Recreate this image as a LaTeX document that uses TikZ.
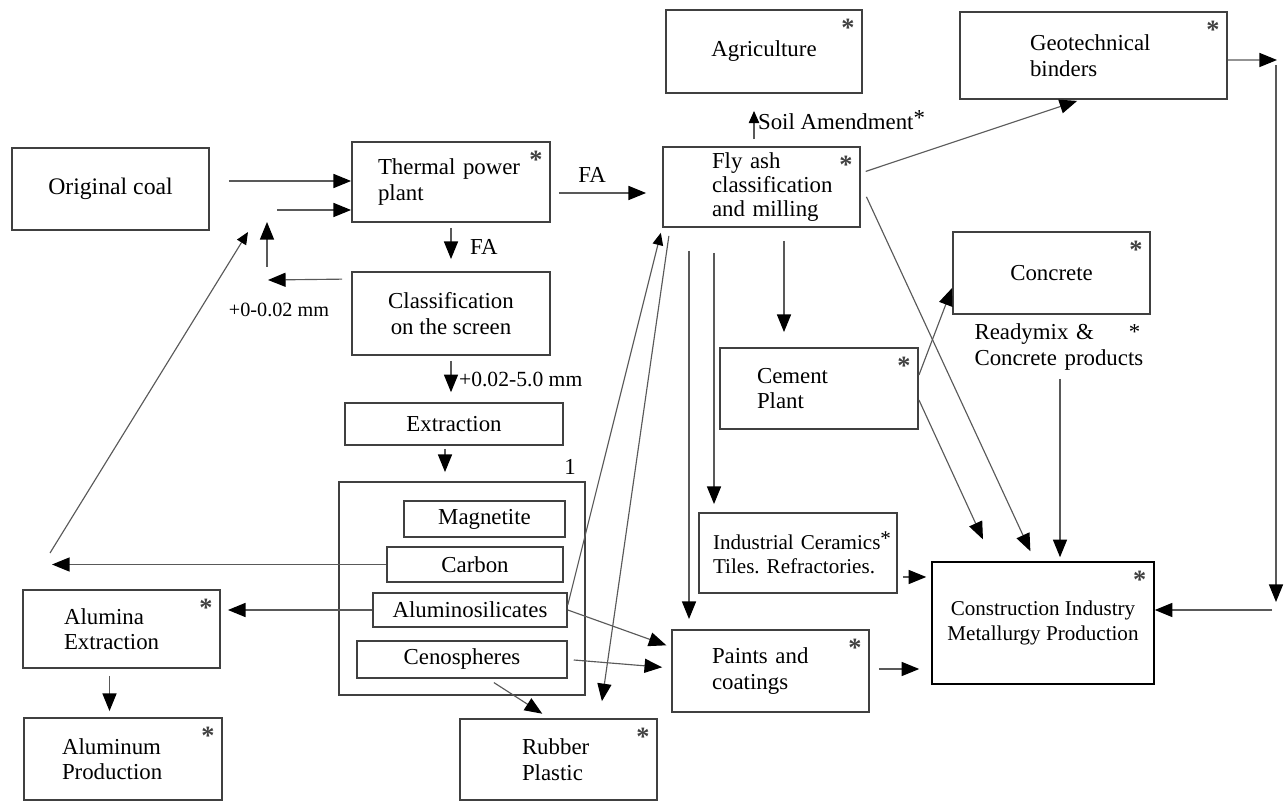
\documentclass[tikz,border=0pt]{standalone}
\usepackage{fontspec}
\setmainfont{Liberation Serif}
\usetikzlibrary{arrows.meta,calc}
\definecolor{grauRand}{rgb}{0.25,0.25,0.25}
\definecolor{grauLinie}{rgb}{0.35,0.35,0.35}
\tikzstyle{stage} = [draw=grauRand,line width=1.1pt,rectangle,inner sep=2pt,font=\fontsize{13}{14.5}\selectfont]
\tikzstyle{fraction} = [draw=grauRand,line width=0.9pt,rectangle,inner sep=2pt,font=\fontsize{13}{14.5}\selectfont]
\tikzstyle{stern} = [label={[anchor=center,xshift=-0.3cm,yshift=-0.38cm,inner sep=0pt,text=black!75,font=\fontsize{15}{15}\selectfont\bfseries]north east:*}]
\tikzstyle{note} = [inner sep=2pt,font=\fontsize{13}{14.5}\selectfont]
\tikzstyle{edge} = [-{Triangle[length=10pt,width=8pt,color=black]},draw=grauLinie,line width=0.65pt]
\tikzstyle{edge'} = [-{Triangle[length=7pt,width=6pt,color=black]},draw=grauLinie,line width=0.65pt]

\begin{document}
\begin{tikzpicture}[x=0.02cm,y=-0.02cm]
\useasboundingbox (0,0) rectangle (1288,803);

\node[stage,font=\fontsize{13.5}{15}\selectfont,minimum width=3.94cm,minimum height=1.64cm] (coal) at (110.5,189) {
	Original coal
};
\node[stage,stern,align=left,text width=2.92cm,minimum width=3.96cm,minimum height=1.6cm] (thermal) at (451,182) {
	Thermal power\\plant
};
\node[stage,align=center,minimum width=3.96cm,minimum height=1.66cm] (classif) at (451,313.5) {
	Classification\\on the screen
};
\node[fraction,minimum width=4.36cm,minimum height=0.84cm] (extract) at (454,424) {
	Extraction
};

\node[stage,minimum width=4.92cm,minimum height=4.26cm] (group) at (462,588.5) {};
\node[note] (grp1) at (570,467) {1};
\node[fraction,minimum width=3.22cm,minimum height=0.72cm] (magnet) at (484.5,519) {Magnetite};
\node[fraction,minimum width=3.52cm,minimum height=0.7cm] (carbon) at (475,564.5) {Carbon};
\node[fraction,minimum width=3.88cm,minimum height=0.68cm] (alusil) at (470,610) {Aluminosilicates};
\node[fraction,minimum width=4.2cm,minimum height=0.74cm] (ceno) at (462,659.5) {Cenospheres};

\node[stage,stern,align=left,text width=2.3cm,minimum width=3.94cm,minimum height=1.56cm] (alumina) at (121.5,629) {
	Alumina\\Extraction
};
\node[stage,stern,align=left,text width=2.44cm,minimum width=3.96cm,minimum height=1.64cm] (aluminum) at (123,759) {
	Aluminum\\Production
};
\node[stage,stern,align=left,text width=1.46cm,minimum width=3.94cm,minimum height=1.62cm] (rubber) at (558.5,759.5) {
	Rubber\\Plastic
};

\node[stage,stern,align=left,text width=1.98cm,minimum width=3.94cm,minimum height=1.6cm,font=\fontsize{13}{13.9}\selectfont] (flyash) at (761.5,187) {
	\mbox{Fly ash}\\\mbox{classification}\\\mbox{and milling}
};
\node[stage,stern,minimum width=3.92cm,minimum height=1.66cm] (agri) at (764,51.5) {
	Agriculture
};
\node[stage,stern,align=left,text width=2.54cm,minimum width=5.34cm,minimum height=1.74cm] (geo) at (1093.5,55.5) {
	Geotechnical\\binders
};
\node[stage,stern,minimum width=3.94cm,minimum height=1.64cm] (concrete) at (1051.5,273) {
	Concrete
};
\node[note,align=left,text width=3.42cm] (rmx) at (1060,347) {
	Readymix \&\hspace{0.7cm}*\\Concrete products
};
\node[stage,stern,align=left,text width=3.4cm,minimum width=3.96cm,minimum height=1.62cm] (cement) at (819,388.5) {
	\hspace{0.46cm}Cement\\\hspace{0.46cm}Plant
};
\node[stage,align=left,text width=3.4cm,minimum width=3.96cm,minimum height=1.6cm,font=\fontsize{12}{14}\selectfont] (ceram) at (798,553) {
	\mbox{Industrial Ceramics\raisebox{2pt}{*}}\\\mbox{Tiles.\ Refractories.}
};
\node[stage,stern,align=left,text width=2.34cm,minimum width=3.94cm,minimum height=1.64cm] (paints) at (770.5,671) {
	Paints and\\coatings
};
\node[stage,stern,draw=black,line width=0.9pt,align=center,minimum width=4.44cm,minimum height=2.44cm,font=\fontsize{12}{14}\selectfont] (constr) at (1043,623) {
	Construction Industry\\Metallurgy Production
};

\node[note,font=\fontsize{11.5}{13}\selectfont] (fine) at (279,310) {+0-0.02 mm};

\coordinate (upS) at (267,267);
\coordinate (upE) at (267,222);
\coordinate (retE) at (268,280);
\coordinate (retS) at (277,210);
\coordinate (carbE) at (52,567);
\coordinate (diagS) at (50,553);
\coordinate (diagE) at (248,232);
\coordinate (geoE) at (1277,60);
\coordinate (sideS) at (1276,65);
\coordinate (sideE) at (1276,602);
\coordinate (backS) at (1272,610);

\draw[edge,shorten <=0.38cm] ([yshift=0.16cm]coal.east) -- ([yshift=0.16cm]coal.east -| thermal.west);
\draw[edge,shorten <=0.18cm] ([yshift=-0.16cm]classif.north west) -- (retE);
\draw[edge] (upS) -- (upE);
\draw[edge] (retS) -- (retS -| thermal.west);
\draw[edge'] (diagS) -- (diagE);
\draw[edge] (carbon.west) -- (carbE |- carbon.west);
\draw[edge,shorten >=0.14cm] (alusil.west) -- (alusil.west -| alumina.east);
\draw[edge,shorten <=0.14cm,shorten >=0.12cm] ([xshift=-0.24cm]alumina.south) -- ([xshift=-0.24cm]alumina.south |- aluminum.north);

\draw[edge,shorten <=0.1cm,shorten >=0.24cm] (thermal.south) -- (thermal.south |- classif.north) node[note,midway,right,xshift=0.3cm] (fa1) {FA};
\draw[edge,shorten <=0.1cm,shorten >=0.2cm] (classif.south) -- (classif.south |- extract.north) node[note,midway,right,xshift=0.08cm,font=\fontsize{12.3}{14}\selectfont] (mm) {+0.02-5.0 mm};
\draw[edge,shorten <=0.16cm,shorten >=0.32cm] ([yshift=-0.22cm]thermal.east) -- node[note,pos=0.37,above,yshift=0.12cm] (fa2) {FA} ([yshift=-0.22cm]thermal.east -| flyash.west);
\draw[edge,shorten <=0.06cm,shorten >=0.18cm] ([xshift=-0.18cm]extract.south) -- ([xshift=-0.18cm]extract.south |- group.north);

\draw[edge',shorten <=0.14cm,shorten >=0.34cm] ([xshift=-0.15cm]flyash.north) -- ([xshift=-0.15cm]flyash.north |- agri.south) node[note,midway,right] (soil) {Soil Amendment\raisebox{2pt}{*}};
\draw[edge,shorten <=0.1cm,shorten >=0.06cm] ([yshift=0.28cm]flyash.east) -- ([xshift=-0.27cm]geo.south);
\draw[edge] ([yshift=-0.09cm]geo.east) -- (geoE);
\draw[edge] (sideS) -- (sideE);
\draw[edge] (backS) -- (backS -| constr.east);

\draw[edge,shorten <=0.26cm,shorten >=0.3cm] ([xshift=0.45cm]flyash.south) -- ([xshift=0.45cm]flyash.south |- cement.north);
\draw[edge,shorten <=0.5cm,shorten >=0.16cm] ([xshift=-0.95cm]flyash.south) -- ([xshift=-0.95cm]flyash.south |- ceram.north);
\draw[edge,shorten <=0.46cm,shorten >=0.2cm] ([xshift=-1.45cm]flyash.south) -- ([xshift=-1.45cm]flyash.south |- paints.north);
\draw[edge,shorten <=0.16cm,shorten >=0.34cm] ([xshift=-1.83cm]flyash.south) -- ([xshift=0.82cm]rubber.north);
\draw[edge',shorten >=0.1cm] ([yshift=0.1cm]alusil.east) -- (flyash.south west);
\draw[edge,shorten >=0.1cm] (alusil.east) -- ([yshift=0.48cm]paints.west);
\draw[edge,shorten <=0.12cm,shorten >=0.18cm] (ceno.east) -- ([yshift=0.06cm]paints.west);
\draw[edge,shorten <=0.14cm,shorten >=0.16cm] ([xshift=0.52cm]ceno.south) -- ([xshift=-0.19cm]rubber.north);

\draw[edge] ([yshift=0.27cm]cement.east) -- ([yshift=-0.3cm]concrete.west);
\draw[edge,shorten >=0.48cm] ([yshift=-0.23cm]cement.east) -- ([xshift=-1cm]constr.north);
\draw[edge,shorten <=0.26cm,shorten >=0.22cm] ([yshift=0.04cm]flyash.east) -- ([xshift=-0.16cm]constr.north);
\draw[edge,shorten <=0.1cm,shorten >=0.08cm] (rmx.south) -- (rmx.south |- constr.north);
\draw[edge,shorten <=0.1cm,shorten >=0.1cm] ([yshift=-0.48cm]ceram.east) -- ([yshift=-0.48cm]ceram.east -| constr.west);
\draw[edge,shorten <=0.18cm,shorten >=0.24cm] ([yshift=0.04cm]paints.east) -- ([yshift=0.04cm]paints.east -| constr.west);
\end{tikzpicture}
\end{document}
